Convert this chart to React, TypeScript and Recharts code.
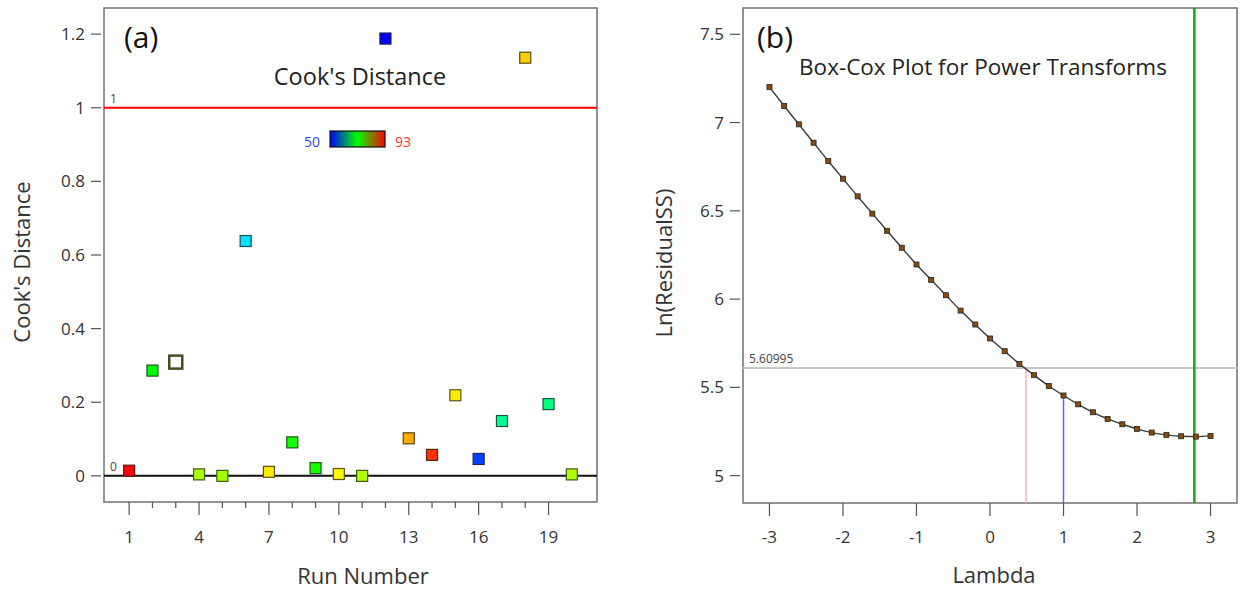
import React from "react";
import {
  ScatterChart,
  Scatter,
  ComposedChart,
  Line,
  XAxis,
  YAxis,
  ReferenceLine,
  ReferenceArea,
  Customized,
} from "recharts";

// (a) Cook's distance per run
const RUNS = [1, 2, 3, 4, 5, 6, 7, 8, 9, 10, 11, 12, 13, 14, 15, 16, 17, 18, 19, 20];
const COOKS_D = [0.014, 0.286, 0.309, 0.004, 0.0, 0.638, 0.011, 0.091, 0.021, 0.005, 0.0, 1.188, 0.102, 0.057, 0.219, 0.046, 0.149, 1.136, 0.195, 0.004];
// response used for the colour scale (50 .. 93); null = point drawn hollow
const RESPONSE = [93, 71.5, null, 78.7, 78.5, 59.5, 83.1, 72.4, 72.4, 82.6, 79, 50, 85.8, 90.9, 83.1, 52.7, 65.2, 84.4, 66.1, 78.7];
const RUN_TICKS = [1, 2, 3, 4, 5, 6, 7, 8, 9, 10, 11, 12, 13, 14, 15, 16, 17, 18, 19];
const RUN_LABELS = [1, 4, 7, 10, 13, 16, 19];
const COOK_TICKS = [0, 0.2, 0.4, 0.6, 0.8, 1, 1.2];
const COOK_LIMIT = 1;
const RESP_MIN = 50;
const RESP_MAX = 93;

// (b) Box-Cox
const LAMBDA = [-3, -2.8, -2.6, -2.4, -2.2, -2, -1.8, -1.6, -1.4, -1.2, -1, -0.8, -0.6, -0.4, -0.2, 0, 0.2, 0.4, 0.6, 0.8, 1, 1.2, 1.4, 1.6, 1.8, 2, 2.2, 2.4, 2.6, 2.8, 3];
const LN_RSS = [7.201, 7.094, 6.99, 6.886, 6.782, 6.682, 6.582, 6.484, 6.387, 6.291, 6.196, 6.109, 6.022, 5.935, 5.856, 5.777, 5.705, 5.633, 5.569, 5.508, 5.454, 5.404, 5.359, 5.321, 5.291, 5.265, 5.244, 5.231, 5.223, 5.221, 5.225];
const LAMBDA_TICKS = [-3, -2, -1, 0, 1, 2, 3];
const LN_TICKS = [5, 5.5, 6, 6.5, 7, 7.5];
const BEST_LAMBDA = 2.78;
const CURRENT_LAMBDA = 1;
const CI_LOW = 0.49;
const CI_LN = 5.60995;

const FONT = "'Open Sans', 'Noto Sans', sans-serif";
const A_X = [-0.08, 21.08];
const A_Y = [-0.071, 1.271];
const B_X = [-3.36, 3.36];
const B_Y = [4.845, 7.649];

function respColor(v: number) {
  const hue = (240 * (RESP_MAX - v)) / (RESP_MAX - RESP_MIN);
  return { fill: `hsl(${hue},100%,50%)`, stroke: `hsl(${hue},55%,22%)` };
}

function CookDot(props: any) {
  const { cx, cy, payload } = props;
  if (payload.resp == null) {
    return <rect x={cx - 6.5} y={cy - 6.5} width={13} height={13} fill="#fff" stroke="#4b4b22" strokeWidth={2.5} />;
  }
  const c = respColor(payload.resp);
  return <rect x={cx - 5.5} y={cy - 5.5} width={11} height={11} fill={c.fill} stroke={c.stroke} strokeWidth={1.2} />;
}

function BoxDot(props: any) {
  const { cx, cy, index } = props;
  return <rect key={index} x={cx - 2.5} y={cy - 2.5} width={5} height={5} fill="#8a4a0c" stroke="#222" strokeWidth={0.8} />;
}

function RefLabel({ viewBox, text }: any) {
  if (!viewBox) return null;
  return (
    <text x={viewBox.x + 6} y={viewBox.y - 5} fontSize={12} fill="#444" fontFamily={FONT}>
      {text}
    </text>
  );
}

function YTick({ x, y, payload }: any) {
  return (
    <g>
      <line x1={x - 13} x2={x - 3} y1={y} y2={y} stroke="#555" strokeWidth={1.2} />
      <text x={x - 19} y={y} dy={6} textAnchor="end" fontSize={17} fill="#333" fontFamily={FONT}>
        {String(payload.value)}
      </text>
    </g>
  );
}

function RunTick({ x, y, payload }: any) {
  const major = RUN_LABELS.includes(payload.value);
  return (
    <g>
      <line x1={x} x2={x} y1={y} y2={y + (major ? 13 : 6)} stroke="#555" strokeWidth={1.2} />
      {major && (
        <text x={x} y={y + 41} textAnchor="middle" fontSize={17} fill="#333" fontFamily={FONT}>
          {payload.value}
        </text>
      )}
    </g>
  );
}

function LambdaTick({ x, y, payload }: any) {
  return (
    <g>
      <line x1={x} x2={x} y1={y} y2={y + 13} stroke="#555" strokeWidth={1.2} />
      <text x={x} y={y + 40} textAnchor="middle" fontSize={17} fill="#333" fontFamily={FONT}>
        {payload.value}
      </text>
    </g>
  );
}

function OverlayA() {
  return (
    <g fontFamily={FONT}>
      <defs>
        <linearGradient id="respGrad" x1="0" x2="1" y1="0" y2="0">
          <stop offset="0%" stopColor="#0000ff" />
          <stop offset="50%" stopColor="#00ff00" />
          <stop offset="100%" stopColor="#ff0000" />
        </linearGradient>
      </defs>
      <text x={124} y={48} fontSize={30} fill="#111">(a)</text>
      <text x={360} y={85} fontSize={23.5} fill="#222" textAnchor="middle">Cook's Distance</text>
      <text x={320} y={147} fontSize={14} fill="#3344ff" textAnchor="end">{RESP_MIN}</text>
      <rect x={330} y={131} width={55} height={16} fill="url(#respGrad)" stroke="#111" strokeWidth={1.2} />
      <text x={395} y={147} fontSize={14} fill="#ff3333">{RESP_MAX}</text>
      <text x={363} y={584} fontSize={22} fill="#333" textAnchor="middle">Run Number</text>
      <text transform="translate(30,262) rotate(-90)" fontSize={22} fill="#333" textAnchor="middle">Cook's Distance</text>
    </g>
  );
}

function OverlayB() {
  return (
    <g fontFamily={FONT}>
      <text x={137} y={48} fontSize={30} fill="#111">(b)</text>
      <text x={363} y={75} fontSize={22.5} fill="#222" textAnchor="middle">Box-Cox Plot for Power Transforms</text>
      <text x={374} y={583} fontSize={22} fill="#333" textAnchor="middle">Lambda</text>
      <text transform="translate(52,263) rotate(-90)" fontSize={22} fill="#333" textAnchor="middle">Ln(ResidualSS)</text>
    </g>
  );
}

export default function App() {
  const cookData = RUNS.map((r, i) => ({ run: r, cd: COOKS_D[i], resp: RESPONSE[i] }));
  const boxData = LAMBDA.map((l, i) => ({ lambda: l, ln: LN_RSS[i] }));
  const currentLn = LN_RSS[LAMBDA.indexOf(CURRENT_LAMBDA)];

  return (
    <div style={{ position: "absolute", left: 0, top: 0, width: 1243, height: 593, background: "#fff", display: "flex" }}>
      <ScatterChart width={620} height={593} margin={{ top: 8, right: 23, bottom: 0, left: 0 }}>
        <XAxis
          type="number"
          dataKey="run"
          domain={A_X}
          allowDataOverflow
          ticks={RUN_TICKS}
          interval={0}
          height={91}
          tickSize={0}
          tickMargin={0}
          tickLine={false}
          axisLine={false}
          tick={<RunTick />}
        />
        <YAxis
          type="number"
          dataKey="cd"
          domain={A_Y}
          allowDataOverflow
          ticks={COOK_TICKS}
          interval={0}
          width={104}
          tickSize={0}
          tickMargin={0}
          tickLine={false}
          axisLine={false}
          tick={<YTick />}
        />
        <ReferenceArea x1={A_X[0]} x2={A_X[1]} y1={A_Y[0]} y2={A_Y[1]} fill="none" stroke="#707070" strokeWidth={1.5} />
        <ReferenceLine y={COOK_LIMIT} stroke="#ff0000" strokeWidth={2} label={<RefLabel text="1" />} />
        <ReferenceLine y={0} stroke="#111" strokeWidth={2} label={<RefLabel text="0" />} />
        <Scatter data={cookData} shape={<CookDot />} isAnimationActive={false} />
        <Customized component={<OverlayA />} />
      </ScatterChart>

      <ComposedChart width={623} height={593} data={boxData} margin={{ top: 8, right: 6, bottom: 0, left: 0 }}>
        <XAxis
          type="number"
          dataKey="lambda"
          domain={B_X}
          allowDataOverflow
          ticks={LAMBDA_TICKS}
          interval={0}
          height={90}
          tickSize={0}
          tickMargin={0}
          tickLine={false}
          axisLine={false}
          tick={<LambdaTick />}
        />
        <YAxis
          type="number"
          domain={B_Y}
          allowDataOverflow
          ticks={LN_TICKS}
          interval={0}
          width={123}
          tickSize={0}
          tickMargin={0}
          tickLine={false}
          axisLine={false}
          tick={<YTick />}
        />
        <ReferenceArea x1={B_X[0]} x2={B_X[1]} y1={B_Y[0]} y2={B_Y[1]} fill="none" stroke="#707070" strokeWidth={1.5} />
        <ReferenceLine y={CI_LN} stroke="#c8c8c8" strokeWidth={2} label={<RefLabel text="5.60995" />} />
        <ReferenceLine
          segment={[{ x: CI_LOW, y: B_Y[0] }, { x: CI_LOW, y: CI_LN }]}
          stroke="#ffb0b0"
          strokeWidth={1.5}
        />
        <ReferenceLine
          segment={[{ x: CURRENT_LAMBDA, y: B_Y[0] }, { x: CURRENT_LAMBDA, y: currentLn }]}
          stroke="#6060ff"
          strokeWidth={1.5}
        />
        <ReferenceLine x={BEST_LAMBDA} stroke="#1aa51a" strokeWidth={2.5} />
        <Line
          type="monotone"
          dataKey="ln"
          stroke="#3a3a3a"
          strokeWidth={1.4}
          dot={BoxDot}
          isAnimationActive={false}
        />
        <Customized component={<OverlayB />} />
      </ComposedChart>
    </div>
  );
}
